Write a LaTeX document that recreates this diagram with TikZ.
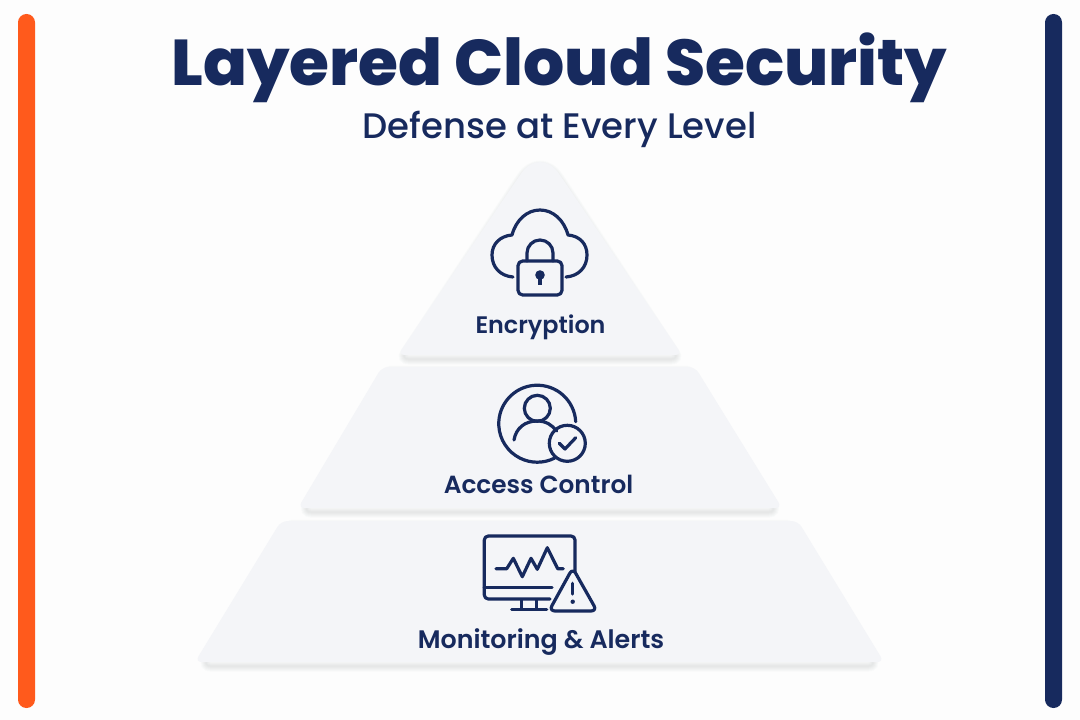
\documentclass[tikz,border=0pt]{standalone}
\usepackage{fontspec}
\setmainfont{Poppins}
\newfontfamily\titlefont{Poppins ExtraBold}
\newfontfamily\subfont{Poppins Medium}
\newfontfamily\labfont{Poppins SemiBold}
\definecolor{navy}{HTML}{172A5E}
\definecolor{orangebar}{HTML}{FF5A1C}
\definecolor{layerfill}{HTML}{F4F5F8}
\definecolor{pagebg}{HTML}{FDFDFD}
\definecolor{shadowc}{HTML}{7A8098}
\tikzset{
  icon/.style={draw=navy,line width=2.4pt,line cap=round,line join=round},
  bar/.style={line width=0pt,rounded corners=6.3pt},
  layerlabel/.style={text=navy,anchor=base,inner sep=0pt},
}
\newcommand{\labsize}[1]{\labfont\fontsize{#1}{20}\selectfont}
\newcommand{\triapath}[1]{[rounded corners=5pt] (518,178+#1) .. controls (532,158.5+#1) and (548,158.5+#1) .. (562,178+#1) -- (682,355+#1) -- (398,355+#1) -- cycle}
\newcommand{\midpath}[1]{[rounded corners=5pt] (382,367+#1) -- (298,508+#1) -- (782,508+#1) -- (695,367+#1) -- cycle}
\newcommand{\botpath}[1]{[rounded corners=5pt] (281,521+#1) -- (195,662+#1) -- (884,662+#1) -- (798,521+#1) -- cycle}
\begin{document}
\begin{tikzpicture}[x=0.75pt,y=-0.75pt]
\useasboundingbox (0,0) rectangle (1080,720);
\fill[pagebg] (0,0) rectangle (1080,720);
% side bars
\fill[orangebar,bar] (18,14) rectangle (35,708);
\fill[navy,bar] (1045,14) rectangle (1062,708);
% title
\node[text=navy,anchor=base,inner sep=0pt,font=\titlefont\fontsize{48.5}{60}\selectfont] (title) at (559.5,86) {Layered Cloud Security};
\node[text=navy,anchor=base,inner sep=0pt,font=\subfont\fontsize{26.6}{30}\selectfont] (subtitle) at (559.5,138.5) {Defense at Every Level};
% soft shadows, narrower than the layers so they show only below
\begin{scope}[shift={(540,0)},xscale=0.975,shift={(-540,0)}]
\foreach \w in {0.75,1.5,...,8.25}{
  \draw[shadowc,opacity=0.016,line width=\w pt] \triapath{4};
  \draw[shadowc,opacity=0.016,line width=\w pt] \midpath{4};
  \draw[shadowc,opacity=0.016,line width=\w pt] \botpath{4};
}
\end{scope}
% layers
\fill[layerfill] \triapath{0};
\fill[layerfill] \midpath{0};
\fill[layerfill] \botpath{0};
% cloud + lock
\draw[icon] (513,277) .. controls (500,276) and (492,267) .. (492,255)
  .. controls (492,244) and (500,236) .. (512,235)
  .. controls (516,220) and (527,210) .. (540,210)
  .. controls (553,210) and (564,220) .. (568,235)
  .. controls (580,236) and (587,244) .. (587,255)
  .. controls (587,267) and (579,276) .. (566,277);
\draw[icon,rounded corners=3.5pt] (518,261) rectangle (562,295);
\draw[icon] (527,261) -- (527,253) arc[start angle=180,end angle=360,radius=13] -- (553,261);
\fill[navy] (540,275) circle[radius=4.8];
\fill[navy] (538.2,276) rectangle (541.8,285);
% person
\draw[icon] (575.7,421.7) arc[start angle=3,end angle=297,x radius=38.5,y radius=-38.5];
\draw[icon] (537.3,408.3) circle[radius=13];
\draw[icon] (514,440) .. controls (516,428) and (525,421) .. (537.3,421) .. controls (546,421) and (552,425) .. (556.7,431);
\draw[icon] (567.3,443.3) circle[radius=18];
\draw[icon] (559.3,443.3) -- (565,449) -- (575.7,437.7);
% monitor
\draw[icon,rounded corners=3pt] (575,572) -- (575,536) -- (484.3,536) -- (484.3,599) -- (550,599);
\draw[icon] (484.3,587.3) -- (552,587.3);
\draw[icon,line cap=butt] (521.7,599) -- (521.7,609) (536.7,599) -- (536.7,609);
\draw[icon] (511.7,609.3) -- (546.7,609.3);
\draw[icon] (496,568.7) -- (506.7,568.7) -- (513.3,558.3) -- (522.3,576.7) -- (531,558.3) -- (537.3,569.3) -- (547.3,547.7) -- (557.7,568.7) -- (563.3,568.7);
\draw[icon,rounded corners=4.5pt] (572.7,568) -- (549,611) -- (597,611) -- cycle;
\draw[icon] (572.7,583.3) -- (572.7,594);
\fill[navy] (572.7,601.7) circle[radius=2.2];
% labels
\node[layerlabel,font=\labsize{17.9}] (enc) at (540.5,333) {Encryption};
\node[layerlabel,font=\labsize{18.6}] (acc) at (538.5,493) {Access Control};
\node[layerlabel,font=\labsize{19}] (mon) at (541,648) {Monitoring \& Alerts};
\end{tikzpicture}
\end{document}
